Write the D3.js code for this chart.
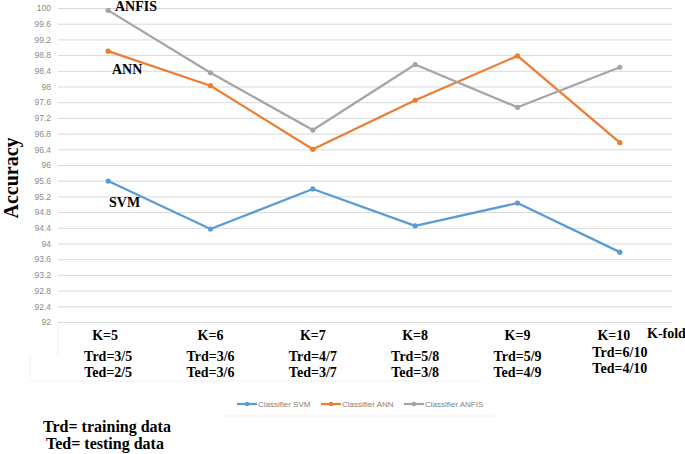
<!DOCTYPE html>
<html><head><meta charset="utf-8">
<script src="https://cdn.jsdelivr.net/npm/d3@7"></script>
<style>body{margin:0;background:#fff}svg{display:block}</style>
</head><body>
<script>
const categories = ["K=5","K=6","K=7","K=8","K=9","K=10"];
const trdLabels = ["Trd=3/5","Trd=3/6","Trd=4/7","Trd=5/8","Trd=5/9","Trd=6/10"];
const tedLabels = ["Ted=2/5","Ted=3/6","Ted=3/7","Ted=3/8","Ted=4/9","Ted=4/10"];
const svm = [95.59, 94.37, 95.39, 94.45, 95.03, 93.78];
const ann = [98.90, 98.02, 96.40, 97.65, 98.78, 96.57];
const anfis = [99.94, 98.35, 96.89, 98.56, 97.47, 98.49];
const seriesNames = ["Classifier SVM","Classifier ANN","Classifier ANFIS"];
const seriesColors = ["#5B9BD5","#ED7D31","#A5A5A5"];
const yTicks = d3.range(0, 21).map(i => +(92 + i*0.4).toFixed(1));

const W = 685, H = 454;
const svg = d3.select("body").append("svg").attr("width", W).attr("height", H);

const x = d3.scalePoint().domain(categories).range([57, 671]).padding(0.5);
const y = d3.scaleLinear().domain([92, 100]).range([322, 8]);

const yAxis = d3.axisLeft(y).tickValues(yTicks).tickSize(-(672-58)).tickFormat(d => String(d));
const gy = svg.append("g").attr("transform", "translate(58,0)").call(yAxis);
gy.select(".domain").remove();
gy.selectAll(".tick line").attr("stroke", "#d9d9d9").attr("stroke-width", 1);
gy.selectAll(".tick text").attr("x", -7).attr("fill", "#8c8c8c")
  .style("font-family", "'Liberation Sans', Arial, sans-serif").style("font-size", "8.5px");

svg.append("path").attr("d", "M58,323V355M30,355V381M30,381H482")
  .attr("fill","none").attr("stroke","#f0f0f0").attr("stroke-width",1);

const series = [svm, ann, anfis];
const line = d3.line().x((d,i) => x(categories[i])).y(d => y(d));
series.forEach((s, k) => {
  svg.append("path").datum(s).attr("d", line).attr("fill", "none")
    .attr("stroke", seriesColors[k]).attr("stroke-width", 2.25).attr("stroke-linejoin","round");
  svg.selectAll(null).data(s).enter().append("circle")
    .attr("cx", (d,i) => x(categories[i])).attr("cy", d => y(d)).attr("r", 2.6)
    .attr("fill", seriesColors[k]);
});

const serif = "'Liberation Serif', 'Times New Roman', serif";
function txt(t, xx, yy, size, anchor) {
  return svg.append("text").attr("x", xx).attr("y", yy).text(t)
    .attr("font-family", serif).attr("font-weight", "bold").attr("font-size", size)
    .attr("text-anchor", anchor || "middle").attr("fill", "#000");
}

categories.forEach((c, i) => {
  const cx = x(c);
  const last = i === categories.length - 1;
  txt(c, cx + (i===0 ? -3 : 0) + (last ? -6 : 0), 340, "14px");
  txt(trdLabels[i], cx, last ? 357 : 361, "14px");
  txt(tedLabels[i], cx, last ? 373 : 377, "14px");
});
txt("K-fold", 647, 338, "14px", "start");

txt("ANFIS", 115, 11, "14px", "start");
txt("ANN", 112, 74, "14px", "start");
txt("SVM", 109, 207, "14px", "start");

txt("Accuracy", 0, 0, "20px").attr("transform", "translate(18,178) rotate(-90)");

const legX = [237, 321, 404];
seriesNames.forEach((n, k) => {
  const g = svg.append("g");
  g.append("line").attr("x1", legX[k]).attr("x2", legX[k] + 20).attr("y1", 404).attr("y2", 404)
    .attr("stroke", seriesColors[k]).attr("stroke-width", 2.25);
  g.append("circle").attr("cx", legX[k] + 10).attr("cy", 404).attr("r", 2.3).attr("fill", seriesColors[k]);
  g.append("text").attr("x", legX[k] + 21).attr("y", 407).text(n)
    .attr("font-family", "'Liberation Sans', Arial, sans-serif").attr("font-size", "8px").attr("fill", "#7f7f7f");
});
svg.append("line").attr("x1", 222).attr("x2", 495).attr("y1", 416).attr("y2", 416)
  .attr("stroke", "#f2f2f2");

txt("Trd= training data", 43, 432, "16px", "start");
txt("Ted= testing data", 46, 449, "16px", "start");
</script>
</body></html>
